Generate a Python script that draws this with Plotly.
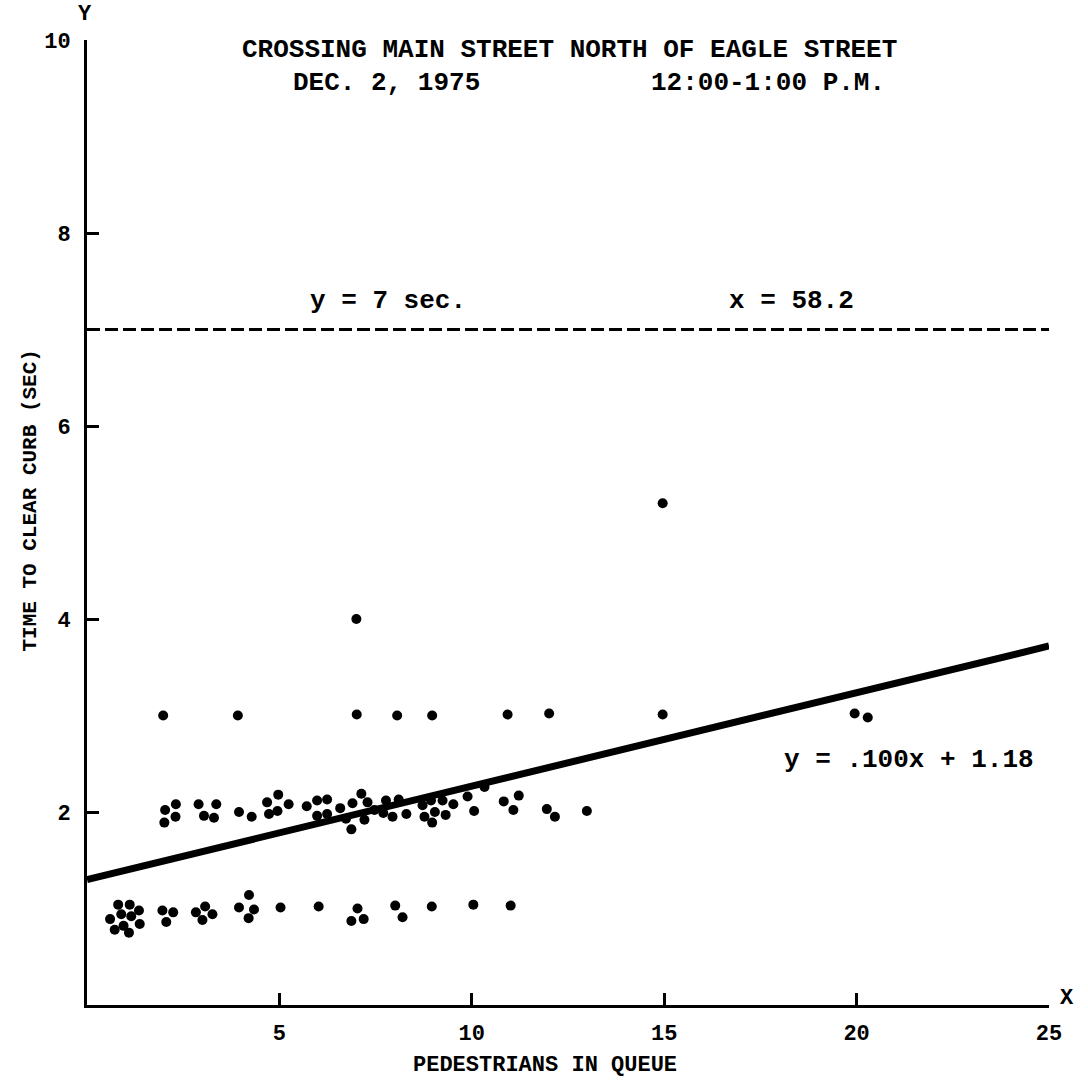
import plotly.graph_objects as go

# ---- data ----
pts_x_row3 = [1.98, 3.92, 7.01, 8.06, 8.97, 10.93, 12.01, 14.96, 19.95, 20.29]
pts_y_row3 = [3.00, 3.00, 3.01, 3.00, 3.00, 3.01, 3.02, 3.01, 3.02, 2.98]

pts_x_high = [7.00, 14.96]
pts_y_high = [4.00, 5.20]

pts_x_row2 = [2.03, 2.31, 2.30, 2.01, 2.90, 3.36, 3.04, 3.30, 3.95, 4.28,
              4.68, 4.97, 5.24, 4.73, 4.95, 5.71, 5.98, 6.24, 5.98, 6.24,
              6.58, 6.90, 7.13, 7.29, 6.73, 6.87, 7.21, 7.77, 8.10, 7.70,
              7.94, 7.47, 8.30, 8.72, 8.94, 8.77, 9.04, 8.97, 9.24, 9.32,
              9.52, 9.89, 10.06, 10.33, 10.83, 11.08, 11.22, 11.95, 12.16, 12.99]
pts_y_row2 = [2.02, 2.08, 1.95, 1.89, 2.08, 2.08, 1.96, 1.94, 2.00, 1.95,
              2.10, 2.18, 2.08, 1.98, 2.01, 2.06, 2.12, 2.13, 1.96, 1.98,
              2.04, 2.09, 2.19, 2.10, 1.93, 1.82, 1.92, 2.12, 2.13, 1.99,
              1.95, 2.02, 1.98, 2.07, 2.12, 1.95, 2.00, 1.89, 2.12, 1.97,
              2.08, 2.16, 2.01, 2.26, 2.11, 2.02, 2.17, 2.03, 1.95, 2.01]

pts_x_row1 = [0.60, 0.81, 1.11, 1.35, 0.89, 1.15, 1.37, 0.95, 0.72, 1.09,
              1.96, 2.24, 2.06, 3.07, 2.83, 3.26, 3.00, 3.95, 4.21, 4.34,
              4.20, 5.03, 6.02, 7.03, 6.87, 7.19, 8.01, 8.20, 8.96, 10.04, 11.01]
pts_y_row1 = [0.89, 1.04, 1.04, 0.98, 0.94, 0.92, 0.84, 0.82, 0.78, 0.75,
              0.98, 0.96, 0.86, 1.02, 0.96, 0.94, 0.88, 1.01, 1.14, 0.99,
              0.90, 1.01, 1.02, 1.00, 0.87, 0.89, 1.03, 0.91, 1.02, 1.04, 1.03]

fit_x = [0, 25]
fit_y = [1.30, 3.72]

limit_x = [0, 25]
limit_y = [7, 7]

x_tick_vals = [5, 10, 15, 20, 25]
x_tick_text = ["5", "10", "15", "20", "25"]
y_tick_vals = [2, 4, 6, 8, 10]
y_tick_text = ["2", "4", "6", "8", "10"]

title_text = "CROSSING MAIN STREET NORTH OF EAGLE STREET"
date_text = "DEC. 2, 1975"
time_text = "12:00-1:00 P.M."
limit_label = "y = 7 sec."
limit_x_label = "x = 58.2"
fit_label = "y = .100x + 1.18"
x_title = "PEDESTRIANS IN QUEUE"
y_title = "TIME TO CLEAR CURB (SEC)"

FONT = "Liberation Mono, Courier New, monospace"

all_x = pts_x_row1 + pts_x_row2 + pts_x_row3 + pts_x_high
all_y = pts_y_row1 + pts_y_row2 + pts_y_row3 + pts_y_high

fig = go.Figure()
fig.add_trace(go.Scatter(x=limit_x, y=limit_y, mode="lines",
                         line=dict(color="black", width=3, dash="13px,5px"),
                         hoverinfo="skip"))
fig.add_trace(go.Scatter(x=fit_x, y=fit_y, mode="lines",
                         line=dict(color="black", width=7), hoverinfo="skip"))
fig.add_trace(go.Scatter(x=all_x, y=all_y, mode="markers",
                         marker=dict(color="black", size=10), cliponaxis=False))

def txt(s, x, y, size=26, xanchor="left", yanchor="middle", angle=0, ref="data"):
    xr, yr = ("x", "y") if ref == "data" else ("paper", "paper")
    fig.add_annotation(text=s, x=x, y=y, xref=xr, yref=yr, showarrow=False,
                       xanchor=xanchor, yanchor=yanchor, textangle=angle,
                       font=dict(family=FONT, size=size, color="black", weight="bold"))

txt(title_text, 12.55, 9.90, xanchor="center")
txt(date_text, 5.30, 9.55)
txt(time_text, 14.6, 9.55)
txt(limit_label, 5.74, 7.30)
txt(limit_x_label, 16.63, 7.30)
txt(fit_label, 18.06, 2.54)
txt(x_title, 0.476, -0.063, size=22, xanchor="center", ref="paper")
txt(y_title, -0.059, 0.523, size=21, xanchor="center", angle=-90, ref="paper")
txt("Y", -0.002, 1.026, size=22, xanchor="center", ref="paper")
txt("X", 1.019, 0.007, size=22, xanchor="center", ref="paper")

axis_font = dict(family=FONT, size=22, color="black", weight="bold")
fig.update_xaxes(range=[0, 25], showgrid=False, zeroline=False, showline=True,
                 linecolor="black", linewidth=3, ticks="inside", ticklen=12,
                 tickwidth=3, tickcolor="black", tickvals=x_tick_vals,
                 ticktext=x_tick_text, tickfont=axis_font, ticklabelstandoff=6)
fig.update_yaxes(range=[0, 10], showgrid=False, zeroline=False, showline=True,
                 linecolor="black", linewidth=3, ticks="inside", ticklen=12,
                 tickwidth=3, tickcolor="black", tickvals=y_tick_vals,
                 ticktext=y_tick_text, tickfont=axis_font, ticklabelstandoff=9)
fig.update_layout(width=1088, height=1082, showlegend=False,
                  plot_bgcolor="white", paper_bgcolor="white",
                  margin=dict(l=87, r=39, t=40, b=77))
fig.write_html("out.html")
